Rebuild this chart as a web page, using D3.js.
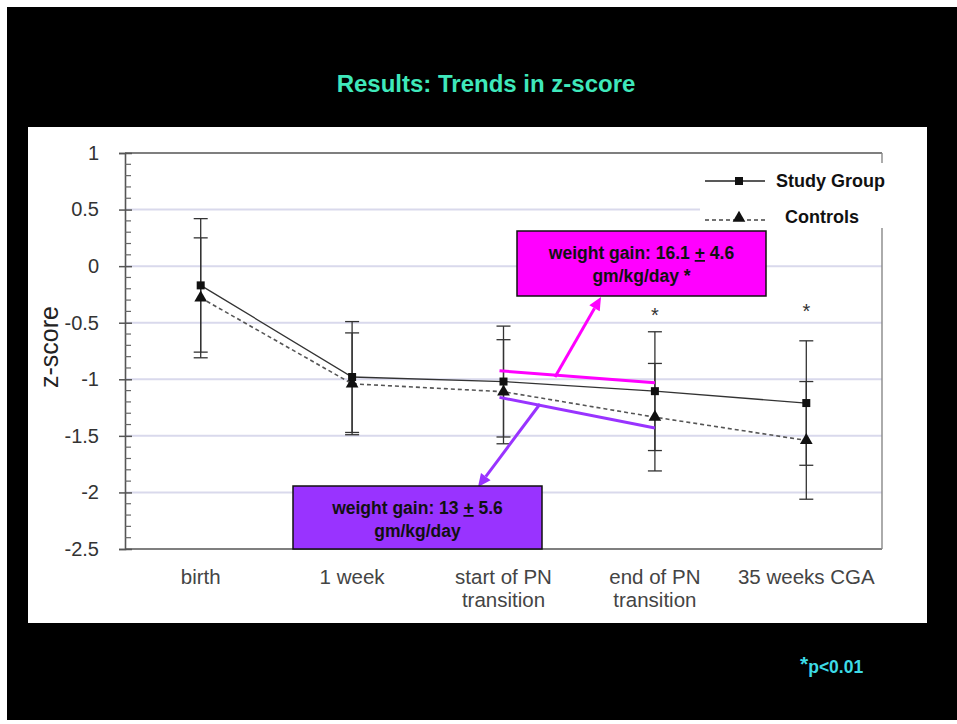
<!DOCTYPE html>
<html><head><meta charset="utf-8">
<script src="https://cdn.jsdelivr.net/npm/d3@7"></script>
<style>body{margin:0;background:#fff;}svg{display:block;font-family:"Liberation Sans",Arial,sans-serif;}</style>
</head><body>
<svg id="c" width="957" height="724"></svg>
<script>
const categories = ["birth", "1 week", "start of PN|transition", "end of PN|transition", "35 weeks CGA"];
const studyMean = [-0.17, -0.98, -1.02, -1.105, -1.21];
const studyErr = [0.59, 0.49, 0.49, 0.525, 0.55];
const controlMean = [-0.28, -1.04, -1.11, -1.335, -1.54];
const controlErr = [0.53, 0.45, 0.46, 0.475, 0.52];
const yTicks = [1, 0.5, 0, -0.5, -1, -1.5, -2, -2.5];
const sigCategories = [3, 4];
const sigLevel = [-0.41, -0.38];
const seriesNames = ["Study Group", "Controls"];

const svg = d3.select("#c");
// background
svg.append("rect").attr("x", 7).attr("y", 7).attr("width", 950).attr("height", 713).attr("fill", "#000");
svg.append("text").attr("x", 486).attr("y", 92).attr("text-anchor", "middle")
  .attr("font-size", 24).attr("font-weight", "bold").attr("fill", "#3fe8bb").text("Results: Trends in z-score");
svg.append("rect").attr("x", 28).attr("y", 127).attr("width", 899).attr("height", 496).attr("fill", "#fff");
const foot = svg.append("text").attr("x", 800).attr("y", 673).attr("font-weight", "bold").attr("fill", "#3ddbe6");
foot.append("tspan").attr("font-size", 21).attr("dy", -2).text("*");
foot.append("tspan").attr("font-size", 17.5).attr("dy", 2).text("p<0.01");

const L = 125, R = 882, T = 153, B = 549;
const x = d3.scaleBand().domain(categories).range([L, R]);
const cx = i => x(categories[i]) + x.bandwidth() / 2;
const y = d3.scaleLinear().domain([-2.5, 1]).range([B, T]);

// gridlines
svg.append("g").selectAll("line").data(yTicks.filter(t => t > -2.5 && t < 1)).join("line")
  .attr("x1", L).attr("x2", R).attr("y1", d => y(d)).attr("y2", d => y(d))
  .attr("stroke", "#d9d9ec").attr("stroke-width", 2);
// frame
svg.append("line").attr("x1", L).attr("x2", R).attr("y1", y(1)).attr("y2", y(1)).attr("stroke", "#555").attr("stroke-width", 1.6);
svg.append("line").attr("x1", L).attr("x2", R).attr("y1", y(-2.5)).attr("y2", y(-2.5)).attr("stroke", "#555").attr("stroke-width", 1.6);
svg.append("line").attr("x1", R).attr("x2", R).attr("y1", y(1)).attr("y2", y(-2.5)).attr("stroke", "#888").attr("stroke-width", 1.4);

// y axis
const yAxis = svg.append("g").attr("transform", `translate(${L},0)`)
  .call(d3.axisLeft(y).tickValues(yTicks).tickSize(6).tickPadding(20).tickFormat(d => String(d)));
yAxis.select(".domain").attr("stroke", "#555").attr("stroke-width", 1.6);
yAxis.selectAll(".tick line").attr("stroke", "#555").attr("stroke-width", 1.5).attr("x2", -6).attr("x1", 7);
yAxis.selectAll(".tick text").attr("font-size", 20).attr("fill", "#333").attr("font-family", "Liberation Sans, Arial, sans-serif");
const minor = d3.range(-25, 11).map(v => v / 10).filter(v => Math.abs(v * 2 - Math.round(v * 2)) > 1e-6);
svg.append("g").selectAll("line").data(minor).join("line")
  .attr("x1", L).attr("x2", L + 6).attr("y1", d => y(d)).attr("y2", d => y(d)).attr("stroke", "#666").attr("stroke-width", 1.2);
svg.append("text").attr("transform", `translate(58,${(T + B) / 2 - 4}) rotate(-90)`).attr("text-anchor", "middle")
  .attr("font-size", 25).attr("fill", "#222").text("z-score");

// x labels
categories.forEach((c, i) => {
  const lines = c.split("|");
  const t = svg.append("text").attr("x", cx(i)).attr("y", 584).attr("text-anchor", "middle")
    .attr("font-size", 20.5).attr("fill", "#444");
  lines.forEach((ln, j) => t.append("tspan").attr("x", cx(i)).attr("dy", j ? 23 : 0).text(ln));
});

// error bars
function errBars(mean, err) {
  const g = svg.append("g").attr("stroke", "#333").attr("stroke-width", 1.3);
  mean.forEach((m, i) => {
    g.append("line").attr("x1", cx(i)).attr("x2", cx(i)).attr("y1", y(m + err[i])).attr("y2", y(m - err[i]));
    [m + err[i], m - err[i]].forEach(v => g.append("line").attr("x1", cx(i) - 7).attr("x2", cx(i) + 7).attr("y1", y(v)).attr("y2", y(v)));
  });
}
errBars(studyMean, studyErr);
errBars(controlMean, controlErr);

const line = d3.line().x((d, i) => cx(i)).y(d => y(d));
svg.append("path").attr("d", line(controlMean)).attr("fill", "none").attr("stroke", "#555").attr("stroke-width", 1.6).attr("stroke-dasharray", "4,3");
svg.append("path").attr("d", line(studyMean)).attr("fill", "none").attr("stroke", "#333").attr("stroke-width", 1.3);
const sq = d3.symbol(d3.symbolSquare, 64), tri = d3.symbol(d3.symbolTriangle, 70);
svg.append("g").selectAll("path").data(controlMean).join("path").attr("d", tri)
  .attr("transform", (d, i) => `translate(${cx(i)},${y(d)})`).attr("fill", "#111");
svg.append("g").selectAll("path").data(studyMean).join("path").attr("d", sq)
  .attr("transform", (d, i) => `translate(${cx(i)},${y(d)})`).attr("fill", "#111");

// significance stars
sigCategories.forEach((ci, k) => {
  svg.append("text").attr("x", cx(ci)).attr("y", y(sigLevel[k]) + 9).attr("text-anchor", "middle")
    .attr("font-size", 20).attr("fill", "#333").text("*");
});

// legend
svg.append("rect").attr("x", 700).attr("y", 163).attr("width", 186).attr("height", 65).attr("fill", "#fff");
svg.append("line").attr("x1", 705).attr("x2", 765).attr("y1", 181).attr("y2", 181).attr("stroke", "#222").attr("stroke-width", 1.3);
svg.append("path").attr("d", sq).attr("transform", "translate(739,181)").attr("fill", "#111");
svg.append("text").attr("x", 776).attr("y", 187).attr("font-size", 18).attr("font-weight", "bold").attr("fill", "#111").text(seriesNames[0]);
svg.append("line").attr("x1", 705).attr("x2", 765).attr("y1", 220).attr("y2", 220).attr("stroke", "#444").attr("stroke-width", 1.4).attr("stroke-dasharray", "4,3");
svg.append("path").attr("d", tri).attr("transform", "translate(739,218)").attr("fill", "#111");
svg.append("text").attr("x", 785).attr("y", 223).attr("font-size", 18).attr("font-weight", "bold").attr("fill", "#111").text(seriesNames[1]);

// annotations: trend segments
const mag = "#ff00ff", pur = "#9933ff";
svg.append("line").attr("x1", cx(2) - 4).attr("x2", cx(3)).attr("y1", y(-0.925)).attr("y2", y(-1.03)).attr("stroke", mag).attr("stroke-width", 3);
svg.append("line").attr("x1", cx(2) - 4).attr("x2", cx(3)).attr("y1", y(-1.16)).attr("y2", y(-1.43)).attr("stroke", pur).attr("stroke-width", 3);

function arrow(x1, y1, x2, y2, col) {
  const a = Math.atan2(y2 - y1, x2 - x1), len = 13, w = 6;
  const bx = x2 - len * Math.cos(a), by = y2 - len * Math.sin(a);
  svg.append("line").attr("x1", x1).attr("y1", y1).attr("x2", bx).attr("y2", by).attr("stroke", col).attr("stroke-width", 3);
  const px = -Math.sin(a) * w, py = Math.cos(a) * w;
  svg.append("path").attr("d", `M${x2},${y2}L${bx + px},${by + py}L${bx - px},${by - py}Z`).attr("fill", col);
}
arrow(555, 377, 601, 297, mag);
arrow(540, 404, 478, 487, pur);

function callout(x0, y0, w, h, col, l1a, l1b, l2) {
  svg.append("rect").attr("x", x0).attr("y", y0).attr("width", w).attr("height", h).attr("fill", col).attr("stroke", "#111").attr("stroke-width", 1.5);
  const t = svg.append("text").attr("x", x0 + w / 2).attr("y", y0 + 28).attr("text-anchor", "middle")
    .attr("font-size", 17.5).attr("font-weight", "bold").attr("fill", "#111");
  t.append("tspan").text(l1a);
  t.append("tspan").attr("text-decoration", "underline").text("+");
  t.append("tspan").text(l1b);
  svg.append("text").attr("x", x0 + w / 2).attr("y", y0 + 51).attr("text-anchor", "middle")
    .attr("font-size", 17.5).attr("font-weight", "bold").attr("fill", "#111").text(l2);
}
callout(517, 231, 249, 65, mag, "weight gain: 16.1 ", " 4.6", "gm/kg/day *");
callout(293, 486, 249, 63, pur, "weight gain: 13 ", " 5.6", "gm/kg/day");
</script>
</body></html>
